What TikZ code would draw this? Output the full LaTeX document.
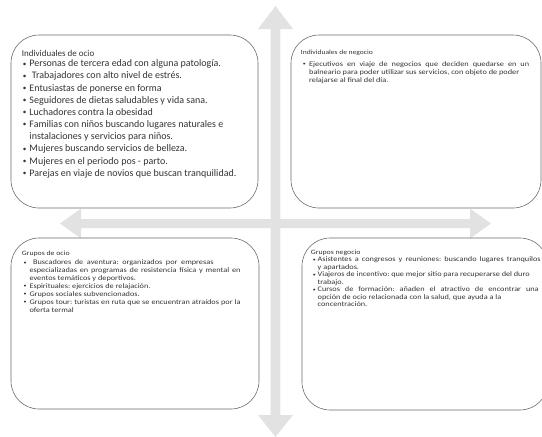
\documentclass[tikz,border=0pt]{standalone}
\usepackage{fontspec}
\usepackage{graphicx}
\setmainfont{Carlito}
\newfontfamily\widefont[FakeStretch=1.18]{Carlito}
\definecolor{axisgray}{HTML}{E2E2E2}
\definecolor{boxline}{HTML}{6A6A6A}
\definecolor{txt}{HTML}{333333}
\newcommand\bl[1]{\makebox[#1][l]{\raisebox{0.12ex}{\scalebox{0.72}{\textbullet}}}}
\newcommand\sj[2]{\makebox[#1][s]{#2}}
\tikzset{
  quad/.style={draw=boxline, line width=0.6pt, rounded corners=28pt, inner sep=0pt},
  axis/.style={fill=axisgray, draw=none},
  ttl/.style={anchor=base west, inner sep=0pt, text=txt},
  lst/.style={anchor=north west, inner sep=0pt, align=left, text=txt},
  bigtxt/.style={font={\frenchspacing\fontsize{10}{12.15}\selectfont}},
  smalltxt/.style={font={\frenchspacing\widefont\fontsize{7}{7.9}\selectfont}},
}
\begin{document}
\begin{tikzpicture}[x=1pt,y=-1pt]
\useasboundingbox (0,0) rectangle (542,437);
% axes
\coordinate (vt) at (275.5,6);
\coordinate (vb) at (275.5,437);
\coordinate (hl) at (60,223.5);
\coordinate (hr) at (491,223.5);
\fill[axis] (270.7,29) -- (258,29) -- (vt) -- (293,29) -- (280.3,29) -- (280.3,415)
  -- (293,415) -- (vb) -- (258,415) -- (270.7,415) -- cycle;
\fill[axis] (81,219) -- (81,208.5) -- (hl) -- (81,238.5) -- (81,228) -- (470,228)
  -- (470,238.5) -- (hr) -- (470,208.5) -- (470,219) -- cycle;
% boxes
\node[quad, minimum width=247pt, minimum height=173pt] (tl) at (134.5,121.5) {};
\node[quad, minimum width=250pt, minimum height=173pt] (tr) at (416,121.5) {};
\node[quad, minimum width=248pt, minimum height=171pt] (bl) at (135,323.5) {};
\node[quad, minimum width=246pt, minimum height=172pt] (br) at (425,324) {};
% top-left
\node[ttl, font={\fontsize{9}{10}\selectfont}] (tlt) at (21.7,56.5) {Individuales de ocio};
\node[lst, bigtxt] (tll) at (22.7,57.6) {\rule{0pt}{9pt}\bl{6.6pt}Personas de tercera edad con alguna patología.\\
\bl{6.6pt} Trabajadores con alto nivel de estrés.\\
\bl{6.6pt}Entusiastas de ponerse en forma\\
\bl{6.6pt}Seguidores de dietas saludables y vida sana.\\
\bl{6.6pt}Luchadores contra la obesidad\\
\bl{6.6pt}Familias con niños buscando lugares naturales e\\
\hspace*{6.6pt}instalaciones y servicios para niños.\\
\bl{6.6pt}Mujeres buscando servicios de belleza.\\
\bl{6.6pt}Mujeres en el periodo pos - parto.\\
\bl{6.6pt}Parejas en viaje de novios que buscan tranquilidad.};
% top-right
\node[ttl, font={\widefont\fontsize{6.4}{7}\selectfont}] (trt) at (300.7,54.5) {Individuales de negocio};
\node[lst, font={\frenchspacing\widefont\fontsize{7}{8.2}\selectfont}] (trl) at (302.7,60) {\rule{0pt}{6pt}\bl{6.3pt}\sj{220pt}{Ejecutivos en viaje de negocios que deciden quedarse en un}\\
\hspace*{6.3pt}\sj{210pt}{balneario para poder utilizar sus servicios, con objeto de poder}\\
\hspace*{6.3pt}relajarse al final del día.};
% bottom-left
\node[ttl, font={\widefont\fontsize{6.6}{7}\selectfont}] (blt) at (21.7,255) {Grupos de ocio};
\node[lst, smalltxt] (bll) at (23.3,258.4) {\rule{0pt}{6pt}\bl{6pt}\sj{184pt}{\ Buscadores de aventura: organizados por empresas}\\
\hspace*{6pt}\sj{211pt}{especializadas en programas de resistencia física y mental en}\\
\hspace*{6pt}eventos temáticos y deportivos.\\
\bl{6pt}Espirituales: ejercicios de relajación.\\
\bl{6pt}Grupos sociales subvencionados.\\
\bl{6pt}\sj{211pt}{Grupos tour: turistas en ruta que se encuentran atraídos por la}\\
\hspace*{6pt}oferta termal};
% bottom-right
\node[ttl, font={\widefont\fontsize{6.6}{7}\selectfont}] (brt) at (310.7,254) {Grupos negocio};
\node[lst, font={\frenchspacing\widefont\fontsize{7}{7.5}\selectfont}] (brl) at (312.7,255.7) {\rule{0pt}{6pt}\bl{4.8pt}\sj{223pt}{Asistentes a congresos y reuniones: buscando lugares tranquilos}\\
\hspace*{4.8pt}y apartados.\\
\bl{4.8pt}\sj{212pt}{Viajeros de incentivo: que mejor sitio para recuperarse del duro}\\
\hspace*{4.8pt}trabajo.\\
\bl{4.8pt}\sj{221pt}{Cursos de formación: añaden el atractivo de encontrar una}\\
\hspace*{4.8pt}opción de ocio relacionada con la salud, que ayuda a la\\
\hspace*{4.8pt}concentración.};
\end{tikzpicture}
\end{document}
